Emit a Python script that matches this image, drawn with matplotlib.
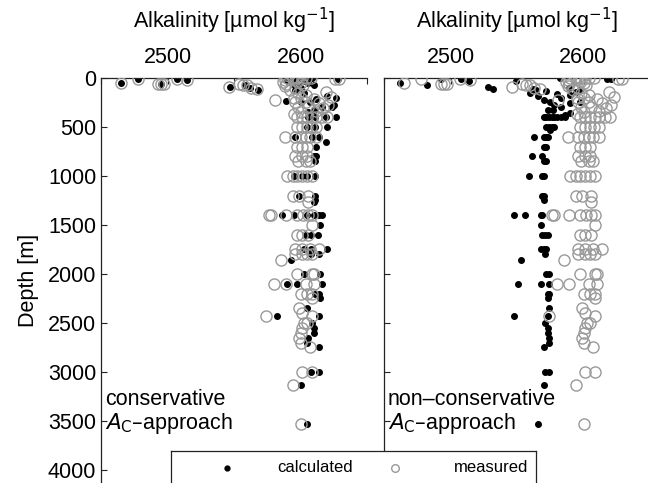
import matplotlib
matplotlib.use('Agg')
import matplotlib.pyplot as plt
from matplotlib.ticker import MultipleLocator

plt.rcParams['font.family'] = ['Liberation Sans', 'DejaVu Sans']

# measured alkalinity (same in both panels)
meas_depth = [50, 10, 65, 65, 65, 10, 25, 90, 60, 75, 70, 100, 115, 10, 10,
              5, 5, 5, 5, 5, 5, 20, 40, 60, 80, 30, 50, 75, 100,
              125, 140, 150, 175, 190, 200, 200, 210, 225, 240, 250, 260, 280, 300, 300, 310, 340, 350, 370,
              400, 400, 400, 400, 400, 400, 400,
              500, 500, 500, 500, 500,
              600, 600, 600, 600, 600, 600,
              700, 700, 700, 800, 800, 800, 850, 850, 850,
              1000, 1000, 1000, 1000, 1000, 1000,
              1200, 1200, 1200, 1270,
              1400, 1400, 1400, 1400, 1400, 1400, 1400,
              1500, 1600, 1600, 1600,
              1750, 1750, 1750, 1750, 1800, 1800, 1800, 1800, 1860,
              2000, 2000, 2000, 2100, 2100, 2100, 2100,
              2200, 2200, 2200, 2250, 2350, 2400, 2430, 2430,
              2500, 2500, 2550, 2600, 2650, 2700, 2750,
              3000, 3000, 3130, 3530]
meas_alk = [2465, 2478, 2493, 2495, 2497, 2507, 2515, 2546, 2554, 2557, 2560, 2563, 2567, 2626, 2629,
            2590, 2594, 2597, 2601, 2604, 2608, 2588, 2587, 2589, 2588, 2598, 2600, 2602, 2596,
            2592, 2619, 2598, 2604, 2623, 2595, 2600, 2610, 2581, 2596, 2604, 2614, 2621, 2598, 2606, 2617, 2612, 2600, 2595,
            2597, 2601, 2605, 2609, 2612, 2616, 2620,
            2597, 2601, 2605, 2608, 2612,
            2588, 2596, 2600, 2604, 2607, 2612,
            2597, 2601, 2605, 2596, 2601, 2605, 2598, 2604, 2607,
            2590, 2594, 2597, 2601, 2605, 2609,
            2594, 2599, 2606, 2606,
            2576, 2578, 2589, 2597, 2602, 2606, 2609,
            2609, 2597, 2601, 2606,
            2596, 2601, 2607, 2614, 2596, 2601, 2605, 2609, 2585,
            2597, 2609, 2610, 2580, 2589, 2604, 2610,
            2600, 2605, 2609, 2609, 2599, 2601, 2574, 2609,
            2603, 2605, 2601, 2600, 2599, 2600, 2607,
            2601, 2609, 2594, 2600]

# calculated alkalinity, conservative approach
cons_depth = [50, 10, 65, 10, 25, 90, 70, 100, 118, 10,
              5, 5, 5, 5, 5, 20, 40, 60, 80, 30, 50, 75, 100,
              125, 150, 180, 200, 210, 230, 240, 250, 280, 300, 300, 330, 350,
              400, 400, 400, 400, 500, 500, 500, 600, 600, 600, 650, 700, 800, 800, 850,
              1000, 1000, 1000, 1000, 1200, 1200, 1250, 1270,
              1400, 1400, 1400, 1400, 1400, 1400, 1500, 1600, 1600, 1600,
              1750, 1750, 1750, 1800, 1800, 1860,
              2000, 2000, 2100, 2100, 2100, 2200, 2200, 2250, 2350, 2430, 2430,
              2500, 2550, 2600, 2650, 2700, 2750, 3000, 3000, 3130, 3530]
cons_alk = [2465, 2478, 2495, 2507, 2515, 2547, 2558, 2562, 2568, 2628,
            2592, 2596, 2600, 2604, 2609, 2590, 2591, 2594, 2598, 2603, 2606, 2610, 2600,
            2596, 2603, 2620, 2627, 2612, 2589, 2600, 2607, 2625, 2616, 2624, 2610, 2606,
            2606, 2611, 2619, 2627, 2605, 2611, 2620, 2596, 2609, 2614, 2619, 2612, 2610, 2612, 2611,
            2595, 2601, 2605, 2611, 2599, 2611, 2611, 2610,
            2586, 2595, 2605, 2610, 2614, 2616, 2615, 2604, 2608, 2613,
            2603, 2608, 2620, 2608, 2614, 2593,
            2603, 2615, 2590, 2597, 2616, 2611, 2614, 2615, 2605, 2582, 2614,
            2609, 2610, 2610, 2606, 2605, 2614, 2608, 2614, 2600, 2605]

# calculated alkalinity, non-conservative approach
ncons_depth = [50, 70, 10, 10, 30, 90, 110, 35, 110, 125, 5, 10, 10,
               150, 180, 130, 220, 250, 280, 300, 200, 170, 140, 120, 100, 330, 330, 360, 380, 260, 240, 160,
               400, 400, 400, 400, 400, 400, 400, 400, 500, 500, 500, 500, 530,
               600, 600, 600, 600, 700, 700, 800, 800, 850, 850,
               1000, 1000, 1000, 1200, 1200, 1250,
               1400, 1400, 1400, 1400, 1500, 1600, 1600, 1600,
               1750, 1750, 1750, 1800, 1860,
               2000, 2000, 2100, 2100, 2100, 2200, 2200, 2250, 2350, 2430, 2430,
               2500, 2550, 2600, 2650, 2700, 2750, 3000, 3000, 3130, 3530]
ncons_alk = [2462, 2482, 2493, 2508, 2514, 2528, 2532, 2549, 2562, 2564, 2582, 2618, 2621,
             2560, 2566, 2572, 2570, 2575, 2578, 2583, 2583, 2590, 2594, 2597, 2589, 2573, 2577, 2590, 2586, 2590, 2597, 2580,
             2570, 2572, 2574, 2576, 2578, 2580, 2583, 2586, 2572, 2574, 2576, 2578, 2575,
             2563, 2570, 2572, 2573, 2570, 2572, 2561, 2569, 2570, 2572,
             2559, 2569, 2570, 2569, 2570, 2570,
             2548, 2556, 2568, 2569, 2568, 2569, 2571, 2573,
             2568, 2570, 2572, 2571, 2553,
             2572, 2574, 2551, 2568, 2574, 2573, 2574, 2573, 2574, 2548, 2573,
             2571, 2573, 2573, 2574, 2574, 2570, 2571, 2574, 2570, 2566]

gray = '#999999'
W, H = 648, 483
fig = plt.figure(figsize=(W / 100, H / 100), dpi=100)

top_px = 78
bot_depth = 4133


def setup(ax):
    ax.set_xlim(2450, 2650)
    ax.set_ylim(bot_depth, 0)
    ax.xaxis.tick_top()
    ax.xaxis.set_label_position('top')
    ax.set_xticks([2500, 2600])
    ax.xaxis.set_minor_locator(MultipleLocator(50))
    ax.set_yticks(range(0, 4001, 500))
    ax.tick_params(axis='both', which='both', direction='in', length=4, width=0.8,
                   labelsize=15.5, colors='#222222', labelcolor='black')
    ax.tick_params(axis='x', which='major', pad=7)
    ax.tick_params(axis='x', which='minor', top=True)
    for s in ['right', 'bottom']:
        ax.spines[s].set_visible(False)
    for s in ['top', 'left']:
        ax.spines[s].set_linewidth(0.9)
        ax.spines[s].set_color('#222222')
    ax.set_xlabel('Alkalinity [µmol kg$^{-1}$]', fontsize=15.5, labelpad=14)


ax1 = fig.add_axes([101 / W, 0, 266 / W, 1 - top_px / H])
ax2 = fig.add_axes([384 / W, 0, 266 / W, 1 - top_px / H])

ax1.plot(cons_alk, cons_depth, 'o', color='black', markersize=4, zorder=2)
ax1.plot(meas_alk, meas_depth, 'o', mfc='none', mec=gray, markersize=8, mew=1.0, zorder=3)
ax2.plot(ncons_alk, ncons_depth, 'o', color='black', markersize=4, zorder=2)
ax2.plot(meas_alk, meas_depth, 'o', mfc='none', mec=gray, markersize=8, mew=1.0, zorder=3)

setup(ax1)
setup(ax2)
ax2.set_yticklabels([])
ax1.set_ylabel('Depth [m]', fontsize=15.5, labelpad=6)

ax1.text(0.015, 0.175, 'conservative\n$A_{\\mathrm{C}}$\u2013approach', transform=ax1.transAxes,
         fontsize=15.5, va='center', ha='left', linespacing=1.05)
ax2.text(0.015, 0.175, 'non\u2013conservative\n$A_{\\mathrm{C}}$\u2013approach', transform=ax2.transAxes,
         fontsize=15.5, va='center', ha='left', linespacing=1.05)

# legend box
lg = fig.add_axes([171 / W, -4 / H, 365 / W, 36 / H])
lg.set_xlim(0, 365)
lg.set_ylim(0, 36)
lg.set_xticks([])
lg.set_yticks([])
for s in lg.spines.values():
    s.set_linewidth(0.9)
    s.set_color('#222222')
lg.plot([56], [19], 'o', color='black', markersize=3.5)
lg.text(106, 19, 'calculated', fontsize=12, va='center', ha='left')
lg.plot([224], [19], 'o', mfc='none', mec=gray, markersize=5.5, mew=1.0)
lg.text(357, 19, 'measured', fontsize=12, va='center', ha='right')

fig.savefig('out.png', dpi=100)
